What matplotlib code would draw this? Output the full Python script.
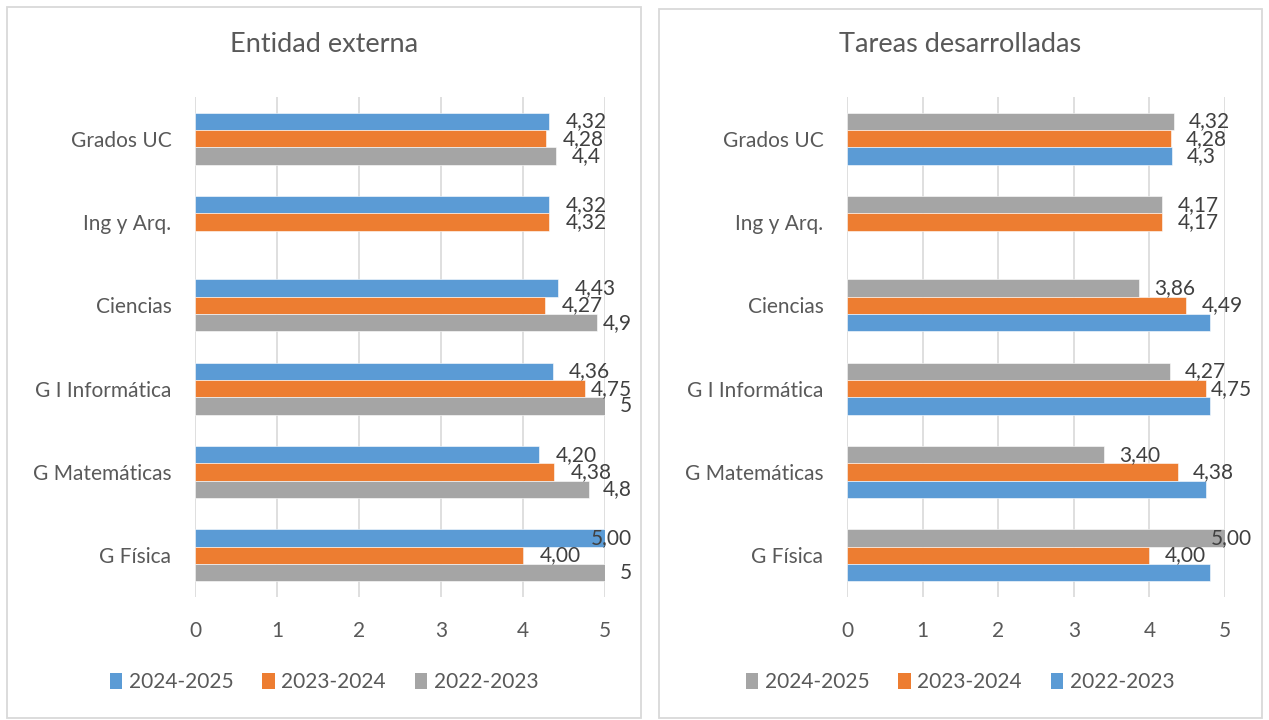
import numpy as np
import matplotlib
matplotlib.use("Agg")
import matplotlib.pyplot as plt
from matplotlib.patches import Rectangle, Patch

plt.rcParams['font.family'] = ['Lato', 'DejaVu Sans']

# datos (de abajo hacia arriba en el eje)
categorias = ["G Física", "G Matemáticas", "G I Informática", "Ciencias", "Ing y Arq.", "Grados UC"]
series = ["2024-2025", "2023-2024", "2022-2023"]

# Entidad externa
ext_2425 = [5.00, 4.20, 4.36, 4.43, 4.32, 4.32]
ext_2324 = [4.00, 4.38, 4.75, 4.27, 4.32, 4.28]
ext_2223 = [5.0, 4.8, 5.0, 4.9, np.nan, 4.4]
ext_lab_2425 = ["5,00", "4,20", "4,36", "4,43", "4,32", "4,32"]
ext_lab_2324 = ["4,00", "4,38", "4,75", "4,27", "4,32", "4,28"]
ext_lab_2223 = ["5", "4,8", "5", "4,9", "", "4,4"]

# Tareas desarrolladas
tar_2425 = [5.00, 3.40, 4.27, 3.86, 4.17, 4.32]
tar_2324 = [4.00, 4.38, 4.75, 4.49, 4.17, 4.28]
tar_2223 = [4.8, 4.75, 4.8, 4.8, np.nan, 4.3]
tar_lab_2425 = ["5,00", "3,40", "4,27", "3,86", "4,17", "4,32"]
tar_lab_2324 = ["4,00", "4,38", "4,75", "4,49", "4,17", "4,28"]
tar_lab_2223 = ["", "", "", "", "", "4,3"]

AZUL = "#5B9BD5"
NARANJA = "#ED7D31"
GRIS = "#A5A5A5"
TXT = "#595959"
LAB = "#404040"
LINEA = "#D9D9D9"

W, H = 1269, 720
fig = plt.figure(figsize=(W / 100, H / 100), dpi=100)


def px_rect(x0, y0, x1, y1):
    # pixel box (top-left origin) -> figure fraction
    return [x0 / W, 1 - y1 / H, (x1 - x0) / W, (y1 - y0) / H]


def marco(x0, y0, x1, y1):
    fig.patches.append(Rectangle((x0 / W, 1 - y1 / H), (x1 - x0) / W, (y1 - y0) / H,
                                 transform=fig.transFigure, fill=False,
                                 edgecolor=LINEA, linewidth=1.3))


def panel(box, titulo, title_xy, vals, labs, colores, clamp, legend_y):
    ax = fig.add_axes(px_rect(*box))
    y = np.arange(len(categorias))
    h = 0.208
    offs = [h, 0, -h]
    textos = []
    for v, lb, c, o in zip(vals, labs, colores, offs):
        ax.barh(y + o, v, height=h, color=c, edgecolor="white", linewidth=0.4, zorder=3)
        for yi, vi, s in zip(y, v, lb):
            if s == "" or np.isnan(vi):
                continue
            t = ax.text(vi + 0.2, yi + o, s, ha="left", va="center",
                        fontsize=15, color=LAB, zorder=4)
            textos.append(t)
    ax.set_xlim(0, 5)
    ax.set_ylim(-0.5, len(categorias) - 0.5)
    ax.set_xticks(range(6))
    ax.set_yticks(y)
    ax.set_yticklabels(categorias)
    ax.tick_params(axis="both", length=0, labelsize=15, labelcolor=TXT)
    ax.tick_params(axis="x", pad=17)
    ax.tick_params(axis="y", pad=17)
    ax.grid(axis="x", color=LINEA, linewidth=1.2, zorder=0)
    for s in ax.spines.values():
        s.set_visible(False)

    # etiquetas que no caben se pegan al borde derecho
    fig.canvas.draw()
    r = fig.canvas.get_renderer()
    inv = ax.transData.inverted()
    for t in textos:
        bb = t.get_window_extent(r)
        x1 = inv.transform((bb.x1, bb.y0))[0]
        if x1 > clamp:
            t.set_ha("right")
            t.set_x(clamp)

    fig.text(title_xy[0] / W, 1 - title_xy[1] / H, titulo, ha="center", va="center",
             fontsize=19.5, color=TXT)
    handles = [Patch(facecolor=c, edgecolor="none") for c in colores]
    fig.legend(handles, series, loc="center", ncol=3, frameon=False,
               bbox_to_anchor=(title_xy[0] / W, 1 - legend_y / H),
               fontsize=15, labelcolor=TXT, handlelength=0.6, handleheight=0.8,
               handletextpad=0.3, columnspacing=1.4)
    return ax


marco(7, 7, 641, 718)
marco(659, 9, 1262, 718)

panel((195, 97, 605, 597), "Entidad externa", (324, 45),
      [ext_2425, ext_2324, ext_2223], [ext_lab_2425, ext_lab_2324, ext_lab_2223],
      [AZUL, NARANJA, GRIS], 5.33, 682)

panel((847, 97, 1225, 597), "Tareas desarrolladas", (960, 45),
      [tar_2425, tar_2324, tar_2223], [tar_lab_2425, tar_lab_2324, tar_lab_2223],
      [GRIS, NARANJA, AZUL], 5.36, 682)

fig.savefig("out.png", dpi=100)
